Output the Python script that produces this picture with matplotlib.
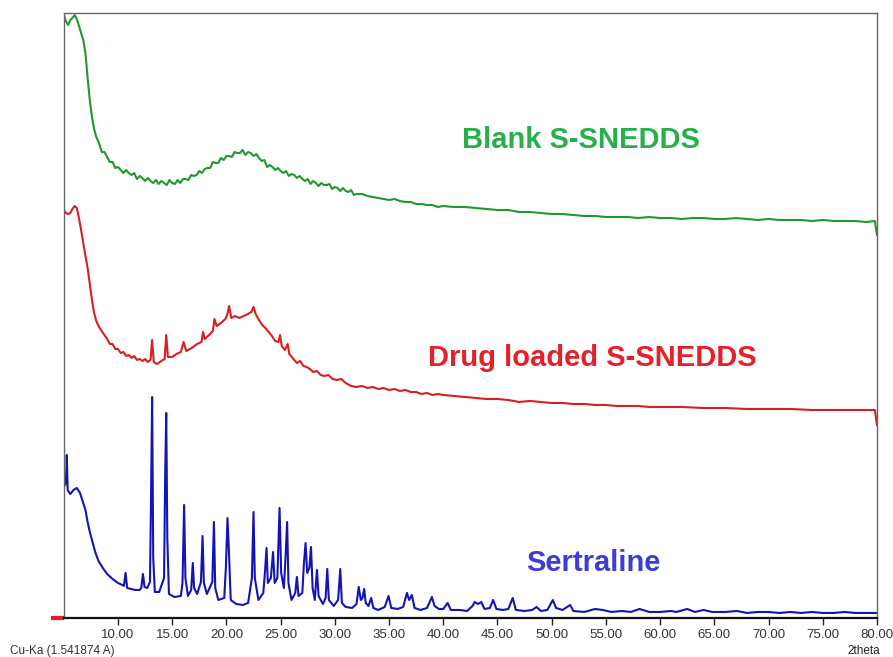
import matplotlib
matplotlib.use("Agg")
import matplotlib.pyplot as plt

plt.rcParams['font.family'] = ['Liberation Sans', 'DejaVu Sans']

# ---------------- data (2theta in degrees, intensity in arbitrary units) -------------
blank_x = [5.0, 5.2, 5.4, 5.6, 5.8, 6.0, 6.2, 6.4, 6.6, 6.8, 7.0, 7.2, 7.4, 7.6, 7.8,
           8.0, 8.25, 8.5, 8.75, 9.0, 9.25, 9.5, 9.75, 10.0, 10.25, 10.5, 10.75, 11.0,
           11.25, 11.5, 11.75, 12.0, 12.25, 12.5, 12.75, 13.0, 13.25, 13.5, 13.75, 14.0,
           14.25, 14.5, 14.75, 15.0, 15.25, 15.5, 15.75, 16.0, 16.25, 16.5, 16.75, 17.0,
           17.25, 17.5, 17.75, 18.0, 18.25, 18.5, 18.75, 19.0, 19.25, 19.5, 19.75, 20.0,
           20.25, 20.5, 20.75, 21.0, 21.25, 21.5, 21.75, 22.0, 22.25, 22.5, 22.75, 23.0,
           23.25, 23.5, 23.75, 24.0, 24.25, 24.5, 24.75, 25.0, 25.25, 25.5, 25.75, 26.0,
           26.25, 26.5, 26.75, 27.0, 27.25, 27.5, 27.75, 28.0, 28.25, 28.5, 28.75, 29.0,
           29.25, 29.5, 29.75, 30.0, 30.25, 30.5, 30.75, 31.0, 31.25, 31.5, 31.75, 32.0,
           32.5, 33, 33.5, 34, 34.5, 35, 35.5, 36, 36.5, 37, 37.5, 38, 38.5, 39, 39.5, 40,
           41, 42, 43, 44, 45, 46, 47, 48, 49, 50, 51, 52, 53, 54, 55, 56, 57, 58, 59, 60,
           61, 62, 63, 64, 65, 66, 67, 68, 69, 70, 71, 72, 73, 74, 75, 76, 77, 78, 79,
           79.8, 80.0]
blank_y = [603, 597, 593, 598, 600, 603, 599, 592, 585, 578, 565, 540, 518, 501, 489,
           481, 475, 466, 466, 461, 456, 456, 450, 451, 448, 445, 448, 445,
           443, 445, 439, 442, 440, 437, 440, 437, 435, 438, 434, 437,
           435, 433, 438, 435, 434, 438, 435, 439, 439, 438, 443, 442,
           443, 447, 445, 449, 450, 450, 456, 455, 455, 460, 458, 462,
           462, 461, 466, 465, 465, 468, 463, 466, 465, 462, 464, 460,
           457, 458, 451, 453, 451, 448, 450, 447, 445, 447, 442, 444,
           443, 440, 442, 439, 437, 439, 434, 437, 435, 432, 435, 433,
           433, 434, 429, 431, 430, 427, 430, 427, 426, 428, 423, 424,
           424, 422, 421, 420, 419, 418, 419, 417, 416, 416, 414, 414, 413, 413, 411, 412,
           411, 411, 410, 409, 408, 408, 406, 406, 405, 404, 404, 403, 402, 402, 401, 401,
           401, 400, 401, 400, 400, 399, 400, 400, 399, 399, 400, 399, 398, 399, 398, 398,
           398, 397, 398, 397, 397, 397, 396, 397, 383]

drug_x = [5.0, 5.2, 5.4, 5.6, 5.8, 6.0, 6.2, 6.4, 6.6, 6.8, 7.0, 7.2, 7.4, 7.6, 7.8,
          8.0, 8.25, 8.5, 8.75, 9.0, 9.25, 9.5, 9.75, 10.0, 10.25, 10.5, 10.75, 11.0,
          11.25, 11.5, 11.75, 12.0, 12.25, 12.5, 12.75, 13.0, 13.15, 13.3,
          13.6, 14.0, 14.3, 14.45, 14.6, 15.0, 15.4, 15.8, 16.05, 16.3, 16.8, 17.3, 17.7,
          17.85, 18.0, 18.4, 18.75, 18.9, 19.1, 19.5, 19.9, 20.1, 20.25, 20.45, 20.8, 21.2,
          21.6, 22.0, 22.3, 22.5, 22.7, 23.0, 23.3, 23.6, 23.9, 24.2, 24.5, 24.8, 24.95,
          25.1, 25.4, 25.65, 25.8, 26.1, 26.5, 26.8, 27.1, 27.4, 27.7, 28.0, 28.35, 28.7,
          29.0, 29.4, 29.8, 30.2, 30.6, 31.0, 31.5, 32.0, 32.5, 33.0, 33.5, 34.0, 34.5, 35,
          35.5, 36, 36.5, 37, 37.5, 38, 38.5, 39, 39.5, 40, 41, 42, 43, 44, 45, 46, 47, 48,
          49, 50, 51, 52, 53, 54, 55, 56, 57, 58, 59, 60, 62, 64, 66, 68, 70, 72, 74, 76,
          78, 79.8, 80.0]
drug_y = [408, 405, 404, 405, 409, 412, 410, 400, 388, 375, 362, 350, 334, 318, 305,
          297, 291, 287, 283, 279, 274, 274, 269, 269, 265, 266, 262, 263,
          260, 262, 258, 259, 257, 259, 256, 258, 278, 256,
          254, 257, 259, 283, 261, 261, 264, 266, 276, 267, 270, 274, 276,
          286, 279, 283, 287, 299, 292, 295, 299, 304, 312, 300, 302, 300,
          302, 304, 306, 311, 304, 298, 293, 290, 286, 282, 277, 276, 283,
          272, 268, 274, 264, 260, 255, 257, 252, 251, 249, 246, 247, 243,
          242, 243, 239, 238, 239, 235, 232, 231, 232, 230, 231, 229, 230, 228,
          229, 227, 228, 226, 226, 224, 225, 223, 224, 223, 222, 221, 220, 219, 219, 218,
          216, 217, 216, 215, 215, 214, 214, 213, 213, 212, 212, 212, 211, 211, 211, 210,
          210, 209, 209, 209, 208, 208, 208, 208, 193]

sert_x = [5.0, 5.2, 5.28, 5.36, 5.6, 5.9, 6.2, 6.5, 6.8, 7.0, 7.2, 7.4, 7.6, 7.9, 8.2, 8.6,
          9.0, 9.5, 10.0, 10.4, 10.55, 10.7, 10.85, 11.2, 11.6, 12.0, 12.15, 12.3, 12.45,
          12.7, 12.95, 13.05, 13.15, 13.25, 13.4, 13.8, 14.25, 14.35, 14.45, 14.55, 14.7,
          15.2, 15.8, 15.95, 16.1, 16.22, 16.45, 16.75, 16.9, 17.02, 17.3, 17.65, 17.8,
          17.92, 18.2, 18.7, 18.85, 18.97, 19.25, 19.8, 19.95, 20.1, 20.22, 20.4, 20.9,
          21.5, 22.0, 22.35, 22.5, 22.62, 22.95, 23.4, 23.55, 23.7, 23.82, 24.1, 24.3,
          24.45, 24.7, 24.9, 25.05, 25.3, 25.45, 25.6, 25.72, 26.0, 26.35, 26.5, 26.65,
          27.0, 27.15, 27.3, 27.45, 27.65, 27.8, 27.95, 28.15, 28.35, 28.5, 28.9, 29.15,
          29.3, 29.45, 29.9, 30.3, 30.5, 30.65, 31.0, 31.6, 32.0, 32.2, 32.4, 32.55, 32.7,
          32.85, 33.1, 33.35, 33.55, 34.0, 34.6, 34.95, 35.2, 35.8, 36.3, 36.65, 36.85,
          37.1, 37.35, 37.9, 38.5, 38.95, 39.2, 39.6, 40.0, 40.4, 40.7, 41.5, 42.2, 42.7,
          42.9, 43.2, 43.5, 43.8, 44.3, 44.6, 44.9, 45.5, 46.0, 46.4, 46.7, 47.5, 48.2,
          48.6, 49.0, 49.6, 50.1, 50.4, 51.0, 51.7, 52.0, 53.0, 54.0, 54.7, 55.5, 56.5,
          57.3, 58.1, 59.0, 60.0, 61.0, 61.5, 62.5, 63.2, 64.0, 64.8, 66.0, 67.1, 68.0,
          69.0, 70.0, 71.0, 72.0, 73.0, 74.0, 75.0, 76.0, 77.0, 78.0, 79.0, 80.0]
sert_y = [131, 135, 163, 128, 124, 128, 130, 125, 115, 108, 96, 86, 78, 66, 57, 50,
          44, 39, 35, 33, 32, 45, 30, 29, 28, 28, 30, 44, 31,
          30, 36, 120, 221, 60, 26, 26, 40, 140, 205, 80, 24,
          21, 22, 35, 113, 40, 22, 28, 55, 30, 24, 36, 82,
          35, 24, 36, 96, 30, 18, 20, 50, 100, 70, 18, 14,
          13, 15, 40, 106, 40, 18, 25, 45, 70, 35, 40, 66,
          35, 40, 110, 45, 30, 60, 96, 35, 18, 25, 41, 22,
          25, 55, 75, 45, 50, 71, 30, 18, 48, 22, 14, 20,
          49, 18, 12, 18, 49, 15, 11, 10, 14, 31, 18, 20, 29,
          15, 12, 20, 10, 8, 11, 22, 10, 9, 11, 25, 18,
          23, 10, 8, 10, 21, 12, 9, 9, 15, 8, 8, 7, 12,
          16, 14, 16, 9, 10, 18, 9, 8, 9, 20, 8, 7, 8,
          11, 7, 8, 18, 10, 8, 13, 7, 6, 9, 8, 6, 7,
          6, 9, 6, 6, 7, 6, 9, 6, 8, 6, 6, 7, 5,
          6, 6, 5, 6, 5, 6, 5, 5, 6, 5, 5, 5]

x_ticks = [10, 15, 20, 25, 30, 35, 40, 45, 50, 55, 60, 65, 70, 75, 80]
tick_labels = ["%.2f" % t for t in x_ticks]
series_names = ["Blank S-SNEDDS", "Drug loaded S-SNEDDS", "Sertraline"]

# ---------------- figure -------------
fig = plt.figure(figsize=(8.93, 6.57), dpi=100)
ax = fig.add_axes([0.0714, 0.0594, 0.9107, 0.9208])

green = '#1f9a2a'
red = '#d81e1e'
blue = '#1414b4'

ax.plot(blank_x, blank_y, color=green, lw=1.5)
ax.plot(drug_x, drug_y, color=red, lw=1.5)
ax.plot(sert_x, sert_y, color=blue, lw=1.5)

ax.set_xlim(5, 80)
ax.set_ylim(0, 605)

ax.text(52.7, 478, series_names[0], color='#27b04a', fontsize=21, fontweight='bold',
        ha='center', va='center')
ax.text(53.7, 260, series_names[1], color='#e4202a', fontsize=21, fontweight='bold',
        ha='center', va='center')
ax.text(53.8, 55, series_names[2], color='#3d3dd6', fontsize=21, fontweight='bold',
        ha='center', va='center')

# small red marker at origin (left of the axis)
ax.plot([3.8, 5.0], [0, 0], color='#e02020', lw=3, clip_on=False, solid_capstyle='butt')

ax.set_xticks(x_ticks)
ax.set_xticklabels(tick_labels, fontsize=9.5, color='#333333')
ax.set_yticks([])
ax.tick_params(axis='x', direction='out', length=5, width=1, color='#222222', pad=3)

for s in ['left', 'top', 'right']:
    ax.spines[s].set_color('#666666')
    ax.spines[s].set_linewidth(1.0)
ax.spines['bottom'].set_color('#111111')
ax.spines['bottom'].set_linewidth(1.6)

fig.text(10 / 893, 1 - 651 / 657, "Cu-Ka (1.541874 A)", fontsize=8.5, color='#333333',
         ha='left', va='center')
fig.text(880 / 893, 1 - 651 / 657, "2theta", fontsize=8.5, color='#222222',
         ha='right', va='center')

fig.savefig("out.png", dpi=100)
